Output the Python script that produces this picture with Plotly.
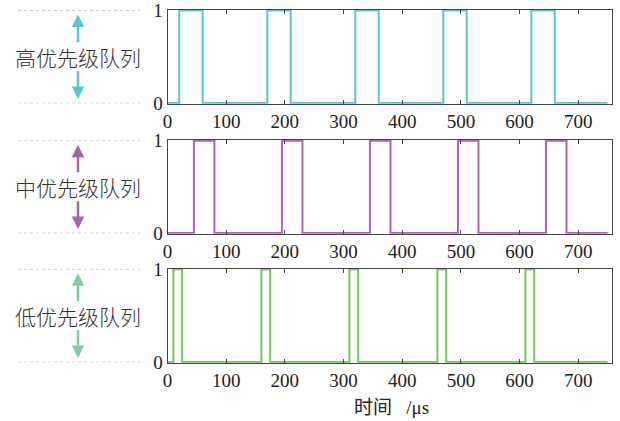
import plotly.graph_objects as go

# ---- data (time in µs, queue state 0/1) ----
times_high = [0, 20, 60, 170, 210, 320, 360, 470, 510, 620, 660, 750]
state_high = [0, 1, 0, 1, 0, 1, 0, 1, 0, 1, 0, 0]
times_mid = [0, 45, 80, 195, 230, 345, 380, 495, 530, 645, 680, 750]
state_mid = [0, 1, 0, 1, 0, 1, 0, 1, 0, 1, 0, 0]
times_low = [0, 10, 25, 160, 175, 310, 325, 460, 475, 610, 625, 750]
state_low = [0, 1, 0, 1, 0, 1, 0, 1, 0, 1, 0, 0]
panel_labels = ["高优先级队列", "中优先级队列", "低优先级队列"]
x_ticks = [0, 100, 200, 300, 400, 500, 600, 700]
y_ticks = [0, 1]
x_title = "时间&nbsp;&nbsp; /μs"

line_colors = ["#5cc6d0", "#b065b5", "#74c65e"]
arrow_colors = ["#5cc4cf", "#a864a8", "#80cc9a"]

W, H = 620, 421
# pixel layout: (pixel of y=1, pixel of y=0)
panels_px = [(10.5, 103.0), (140.7, 233.0), (269.3, 362.0)]
x_left_px, x_right_px = 167.5, 612.3
pad = 0.008
x_range = [0, 758]

SERIF = "'Liberation Serif', 'Times New Roman', serif"

fig = go.Figure()
series = [(times_high, state_high), (times_mid, state_mid), (times_low, state_low)]

tick_font = dict(family=SERIF, size=19, color="#222")

for i, (t, s) in enumerate(series):
    xa = "x" if i == 0 else f"x{i+1}"
    ya = "y" if i == 0 else f"y{i+1}"
    fig.add_trace(go.Scatter(x=t, y=s, mode="lines", line=dict(color=line_colors[i], width=2, shape="hv"),
                             xaxis=xa, yaxis=ya, showlegend=False, hoverinfo="skip"))
    top_px, bot_px = panels_px[i]
    h = bot_px - top_px
    dom = [1 - (bot_px + pad * h) / H, 1 - (top_px - pad * h) / H]
    xkey = "xaxis" if i == 0 else f"xaxis{i+1}"
    ykey = "yaxis" if i == 0 else f"yaxis{i+1}"
    fig.update_layout(**{
        xkey: dict(domain=[x_left_px / W, x_right_px / W], range=x_range, anchor=ya,
                   tickvals=x_ticks, ticktext=[str(v) for v in x_ticks],
                   ticks="inside", ticklen=4, tickcolor="#444", mirror="ticks",
                   showline=True, linecolor="#444", linewidth=1, showgrid=False, zeroline=False,
                   tickfont=tick_font, automargin=False),
        ykey: dict(domain=dom, range=[-pad, 1 + pad], anchor=xa,
                   tickvals=y_ticks, ticktext=[str(v) for v in y_ticks],
                   ticks="", mirror=True,
                   showline=True, linecolor="#444", linewidth=1, showgrid=False, zeroline=False,
                   tickfont=tick_font, automargin=False),
    })
    # dashed guide lines
    for yv in (0, 1):
        fig.add_shape(type="line", xref="paper", yref=ya, x0=18 / W, x1=140 / W, y0=yv, y1=yv,
                      line=dict(color="#cccccc", width=1, dash="3px,3px"))
    # label
    fig.add_annotation(xref="paper", yref=ya, x=78 / W, y=0.5, text=panel_labels[i], showarrow=False,
                       font=dict(family="Noto Sans CJK SC", size=21, color="#333", weight=300),
                       xanchor="center", yanchor="middle")
    # arrows
    head_off = 4 / h
    fig.add_annotation(xref="paper", yref=ya, x=78 / W, y=1 - head_off, ax=0, ay=h / 2 - 4 - 13,
                       text="", showarrow=True, arrowhead=2, arrowsize=1, arrowwidth=2.5,
                       arrowcolor=arrow_colors[i])
    fig.add_annotation(xref="paper", yref=ya, x=78 / W, y=head_off, ax=0, ay=-(h / 2 - 4 - 13),
                       text="", showarrow=True, arrowhead=2, arrowsize=1, arrowwidth=2.5,
                       arrowcolor=arrow_colors[i])

fig.add_annotation(xref="paper", yref="paper", x=391 / W, y=1 - 407 / H, text=x_title, showarrow=False,
                   font=dict(family="'Liberation Serif', 'Noto Sans CJK SC', serif", size=19, color="#222"),
                   xanchor="center", yanchor="middle")

fig.update_layout(width=W, height=H, margin=dict(l=0, r=0, t=0, b=0, autoexpand=False),
                  paper_bgcolor="white", plot_bgcolor="white")
fig.write_html("out.html")
